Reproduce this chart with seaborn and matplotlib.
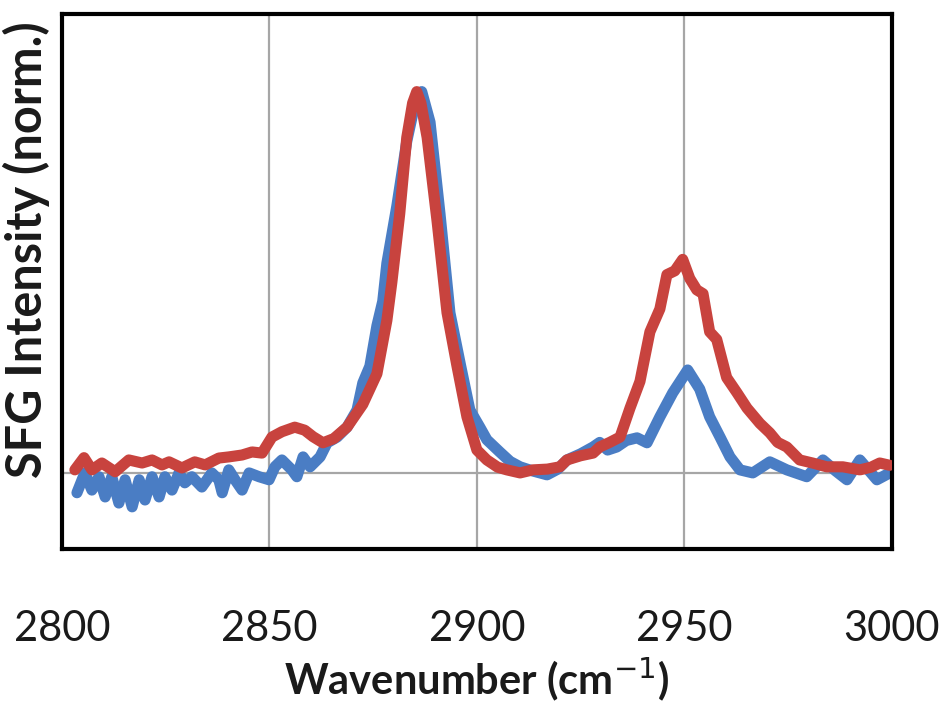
import matplotlib
matplotlib.use("Agg")
import matplotlib.pyplot as plt
import seaborn as sns
import pandas as pd

# Normalised SFG spectra (two samples)
wn_blue = [2803.6, 2805.5, 2807.2, 2808.9, 2810.4, 2812.0, 2813.7, 2815.2, 2816.9, 2818.6,
           2820.0, 2821.7, 2823.4, 2824.8, 2826.5, 2828.2, 2829.6, 2831.3, 2833.7, 2836.1,
           2837.8, 2838.6, 2840.2, 2841.7, 2843.4, 2845.1, 2847.5, 2849.9, 2851.3, 2853.0,
           2855.4, 2856.6, 2858.1, 2859.8, 2862.2, 2863.9, 2866.3, 2868.7, 2871.1, 2872.5,
           2874.2, 2875.9, 2877.3, 2878.3, 2880.7, 2883.1, 2885.5, 2886.7, 2888.7, 2891.1,
           2893.5, 2896.1, 2898.3, 2900.7, 2902.4, 2905.5, 2908.0, 2910.4, 2913.5, 2916.9,
           2919.5, 2921.7, 2925.0, 2928.0, 2929.6, 2931.5, 2933.7, 2936.0, 2938.6, 2941.0,
           2944.1, 2947.2, 2950.8, 2953.7, 2956.1, 2958.6, 2961.0, 2963.4, 2966.5, 2970.6,
           2974.7, 2979.5, 2983.4, 2986.5, 2989.2, 2992.3, 2996.4, 2999.5]
sfg_blue = [-0.052, 0.000, -0.045, -0.010, -0.063, -0.010, -0.079, -0.018, -0.089, -0.018,
            -0.071, -0.010, -0.063, -0.010, -0.045, 0.000, -0.026, -0.010, -0.037, 0.000,
            -0.018, -0.052, 0.008, -0.018, -0.045, 0.000, -0.010, -0.018, 0.016, 0.034,
            0.008, -0.010, 0.042, 0.016, 0.042, 0.079, 0.094, 0.120, 0.165, 0.236,
            0.280, 0.386, 0.450, 0.550, 0.700, 0.870, 0.990, 1.000, 0.920, 0.680,
            0.420, 0.280, 0.165, 0.120, 0.087, 0.055, 0.030, 0.016, 0.005, -0.005,
            0.010, 0.034, 0.050, 0.068, 0.080, 0.060, 0.068, 0.085, 0.092, 0.079,
            0.147, 0.210, 0.270, 0.220, 0.147, 0.094, 0.042, 0.008, 0.000, 0.029,
            0.008, -0.010, 0.034, 0.005, -0.018, 0.034, -0.018, 0.000]

wn_red = [2803.1, 2805.3, 2807.2, 2809.6, 2812.8, 2816.1, 2819.3, 2821.7, 2824.1, 2825.8,
          2828.9, 2832.0, 2834.5, 2837.8, 2840.2, 2843.4, 2845.8, 2848.2, 2850.6, 2853.0,
          2856.1, 2858.5, 2860.5, 2862.9, 2865.5, 2868.7, 2872.5, 2875.9, 2878.3, 2879.5,
          2881.4, 2883.1, 2884.5, 2885.5, 2886.5, 2888.0, 2890.4, 2892.8, 2895.2, 2897.6,
          2900.0, 2902.4, 2905.0, 2907.2, 2910.4, 2913.5, 2917.0, 2920.0, 2921.7, 2925.0,
          2928.0, 2929.6, 2932.0, 2934.5, 2936.9, 2939.3, 2941.7, 2944.1, 2945.8, 2947.7,
          2949.6, 2951.3, 2953.0, 2954.5, 2956.1, 2957.8, 2960.2, 2962.7, 2965.1, 2968.2,
          2970.6, 2972.5, 2974.7, 2977.8, 2980.9, 2984.3, 2988.2, 2992.3, 2995.0, 2997.1,
          2999.5]
sfg_red = [0.008, 0.040, 0.008, 0.026, 0.003, 0.034, 0.026, 0.034, 0.021, 0.029,
           0.013, 0.029, 0.021, 0.039, 0.042, 0.047, 0.055, 0.052, 0.094, 0.108,
           0.120, 0.112, 0.095, 0.079, 0.090, 0.120, 0.180, 0.260, 0.400, 0.500,
           0.680, 0.880, 0.970, 1.000, 0.970, 0.880, 0.660, 0.420, 0.280, 0.147,
           0.060, 0.034, 0.015, 0.008, 0.000, 0.008, 0.010, 0.016, 0.034, 0.045,
           0.052, 0.068, 0.080, 0.094, 0.170, 0.240, 0.370, 0.430, 0.520, 0.530,
           0.560, 0.510, 0.480, 0.470, 0.370, 0.350, 0.250, 0.210, 0.170, 0.130,
           0.105, 0.080, 0.068, 0.034, 0.026, 0.016, 0.016, 0.008, 0.015, 0.026,
           0.020]

xticks = [2800, 2850, 2900, 2950, 3000]

BLUE = "#4A7DC4"
RED = "#C8433E"

sns.set_theme(style="white")
plt.rcParams["font.family"] = ["Lato", "DejaVu Sans"]

fig = plt.figure(figsize=(9.44, 7.06), dpi=100)
ax = fig.add_axes([0.0657, 0.2224, 0.879, 0.758])

df_blue = pd.DataFrame({"wn": wn_blue, "sfg": sfg_blue})
df_red = pd.DataFrame({"wn": wn_red, "sfg": sfg_red})

for x in xticks[1:-1]:
    ax.axvline(x, color="#A6A6A6", lw=1.6, zorder=0)
ax.axhline(0, color="#A6A6A6", lw=1.6, zorder=0)

sns.lineplot(data=df_blue, x="wn", y="sfg", sort=False, color=BLUE, lw=8,
             solid_joinstyle="round", solid_capstyle="round", ax=ax, zorder=2)
sns.lineplot(data=df_red, x="wn", y="sfg", sort=False, color=RED, lw=8,
             solid_joinstyle="round", solid_capstyle="round", ax=ax, zorder=3)

ax.set_xlim(2800, 3000)
ax.set_ylim(-0.1995, 1.204)
ax.set_xticks(xticks)
ax.set_xticklabels([str(t) for t in xticks])
ax.set_yticks([])
ax.tick_params(axis="x", length=0, pad=44, labelsize=30, colors="#1a1a1a")

for s in ax.spines.values():
    s.set_visible(True)
    s.set_color("black")
    s.set_linewidth(3)

ax.set_xlabel("Wavenumber (cm$^{-1}$)", fontsize=30, fontweight="bold", color="#1a1a1a")
ax.set_ylabel("SFG Intensity (norm.)", fontsize=35, fontweight="bold", color="#1a1a1a")
ax.xaxis.set_label_coords(0.5, -0.2)
ax.yaxis.set_label_coords(-0.014, 0.56)

fig.savefig("out.png", dpi=100, facecolor="white")
